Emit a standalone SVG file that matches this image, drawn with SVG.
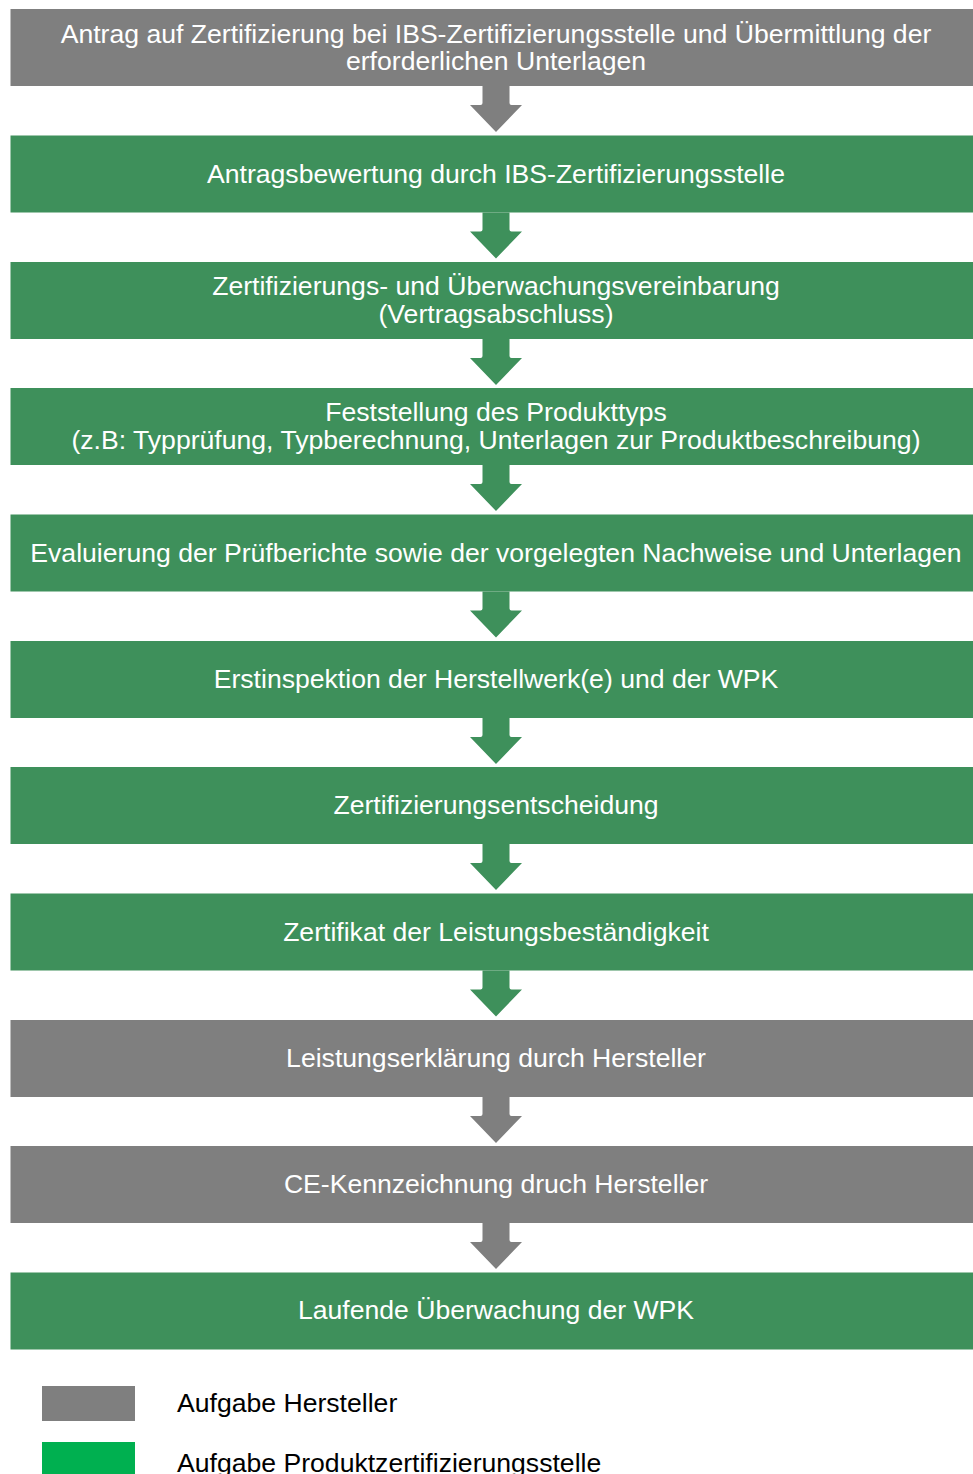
<svg xmlns="http://www.w3.org/2000/svg" width="973" height="1474" viewBox="0 0 973 1474">
<style>
.g{fill:#7f7f7f}
.n{fill:#3e905b}
.t{font-family:"Liberation Sans",Arial,sans-serif;font-size:26.6px;fill:#ffffff;text-anchor:middle}
.l{font-family:"Liberation Sans",Arial,sans-serif;font-size:26.6px;fill:#000000}
</style>
<defs>
<path id="arr" d="M482.5,0 V17 Q482.5,19 480.5,19 H470 L496,46 L522,19 H511.5 Q509.5,19 509.5,17 V0 Z"/>
</defs>
<rect width="973" height="1474" fill="#ffffff"/>
<g id="connectors">
<use href="#arr" class="g" transform="translate(0,86)"/>
<use href="#arr" class="n" transform="translate(0,212.5)"/>
<use href="#arr" class="n" transform="translate(0,339)"/>
<use href="#arr" class="n" transform="translate(0,465)"/>
<use href="#arr" class="n" transform="translate(0,591.5)"/>
<use href="#arr" class="n" transform="translate(0,718)"/>
<use href="#arr" class="n" transform="translate(0,844)"/>
<use href="#arr" class="n" transform="translate(0,970.5)"/>
<use href="#arr" class="g" transform="translate(0,1097)"/>
<use href="#arr" class="g" transform="translate(0,1223)"/>
</g>
<g id="n1"><rect class="g" x="10.5" y="9" width="972" height="77"/>
<text class="t" x="496" y="43">Antrag auf Zertifizierung bei IBS-Zertifizierungsstelle und Übermittlung der</text>
<text class="t" x="496" y="70">erforderlichen Unterlagen</text></g>
<g id="n2"><rect class="n" x="10.5" y="135.5" width="972" height="77"/>
<text class="t" x="496" y="183">Antragsbewertung durch IBS-Zertifizierungsstelle</text></g>
<g id="n3"><rect class="n" x="10.5" y="262" width="972" height="77"/>
<text class="t" x="496" y="295">Zertifizierungs- und Überwachungsvereinbarung</text>
<text class="t" x="496" y="323">(Vertragsabschluss)</text></g>
<g id="n4"><rect class="n" x="10.5" y="388" width="972" height="77"/>
<text class="t" x="496" y="421">Feststellung des Produkttyps</text>
<text class="t" x="496" y="449">(z.B: Typprüfung, Typberechnung, Unterlagen zur Produktbeschreibung)</text></g>
<g id="n5"><rect class="n" x="10.5" y="514.5" width="972" height="77"/>
<text class="t" x="496" y="562">Evaluierung der Prüfberichte sowie der vorgelegten Nachweise und Unterlagen</text></g>
<g id="n6"><rect class="n" x="10.5" y="641" width="972" height="77"/>
<text class="t" x="496" y="688">Erstinspektion der Herstellwerk(e) und der WPK</text></g>
<g id="n7"><rect class="n" x="10.5" y="767" width="972" height="77"/>
<text class="t" x="496" y="814">Zertifizierungsentscheidung</text></g>
<g id="n8"><rect class="n" x="10.5" y="893.5" width="972" height="77"/>
<text class="t" x="496" y="941">Zertifikat der Leistungsbeständigkeit</text></g>
<g id="n9"><rect class="g" x="10.5" y="1020" width="972" height="77"/>
<text class="t" x="496" y="1067">Leistungserklärung durch Hersteller</text></g>
<g id="n10"><rect class="g" x="10.5" y="1146" width="972" height="77"/>
<text class="t" x="496" y="1193">CE-Kennzeichnung druch Hersteller</text></g>
<g id="n11"><rect class="n" x="10.5" y="1272.5" width="972" height="77"/>
<text class="t" x="496" y="1319">Laufende Überwachung der WPK</text></g>
<g id="legend">
<rect x="42" y="1386" width="93" height="35" fill="#7f7f7f"/>
<text class="l" x="177" y="1412">Aufgabe Hersteller</text>
<rect x="42" y="1442" width="93" height="35" fill="#00b050"/>
<text class="l" x="177" y="1472">Aufgabe Produktzertifizierungsstelle</text>
</g>
</svg>
